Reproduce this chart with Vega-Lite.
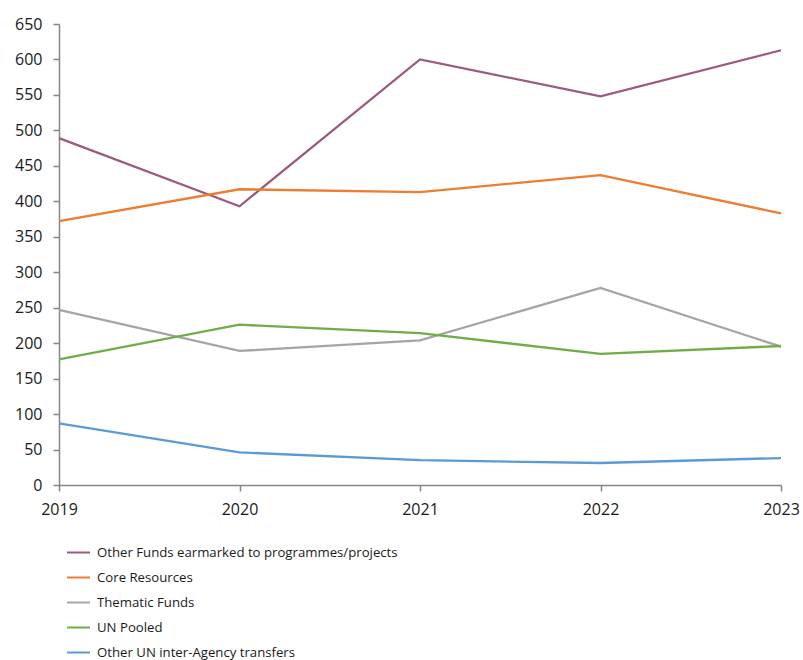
{
  "$schema": "https://vega.github.io/schema/vega-lite/v6.json",
  "autosize": {"type": "none"},
  "width": 722,
  "height": 461,
  "padding": {"left": 59, "top": 24, "right": 22, "bottom": 175},
  "background": "white",
  "config": {
    "font": "Open Sans",
    "view": {"stroke": null},
    "axis": {
      "grid": false,
      "domainColor": "#868686",
      "domainWidth": 1.5,
      "tickColor": "#868686",
      "tickWidth": 1.5,
      "tickSize": 6,
      "labelColor": "#1a1a1a",
      "labelFontSize": 16,
      "title": null
    }
  },
  "data": {
    "values": [
      {"year": "2019", "series": "Other Funds earmarked to programmes/projects", "value": 489},
      {"year": "2020", "series": "Other Funds earmarked to programmes/projects", "value": 393},
      {"year": "2021", "series": "Other Funds earmarked to programmes/projects", "value": 600},
      {"year": "2022", "series": "Other Funds earmarked to programmes/projects", "value": 548},
      {"year": "2023", "series": "Other Funds earmarked to programmes/projects", "value": 613},
      {"year": "2019", "series": "Core Resources", "value": 372},
      {"year": "2020", "series": "Core Resources", "value": 417},
      {"year": "2021", "series": "Core Resources", "value": 413},
      {"year": "2022", "series": "Core Resources", "value": 437},
      {"year": "2023", "series": "Core Resources", "value": 383},
      {"year": "2019", "series": "Thematic Funds", "value": 247},
      {"year": "2020", "series": "Thematic Funds", "value": 189},
      {"year": "2021", "series": "Thematic Funds", "value": 204},
      {"year": "2022", "series": "Thematic Funds", "value": 278},
      {"year": "2023", "series": "Thematic Funds", "value": 195},
      {"year": "2019", "series": "UN Pooled", "value": 177},
      {"year": "2020", "series": "UN Pooled", "value": 226},
      {"year": "2021", "series": "UN Pooled", "value": 214},
      {"year": "2022", "series": "UN Pooled", "value": 185},
      {"year": "2023", "series": "UN Pooled", "value": 196},
      {"year": "2019", "series": "Other UN inter-Agency transfers", "value": 87},
      {"year": "2020", "series": "Other UN inter-Agency transfers", "value": 46},
      {"year": "2021", "series": "Other UN inter-Agency transfers", "value": 35},
      {"year": "2022", "series": "Other UN inter-Agency transfers", "value": 31},
      {"year": "2023", "series": "Other UN inter-Agency transfers", "value": 38}
    ]
  },
  "mark": {"type": "line", "strokeWidth": 2.3, "strokeCap": "butt"},
  "encoding": {
    "x": {
      "field": "year",
      "type": "ordinal",
      "scale": {"type": "point", "padding": 0},
      "axis": {"labelAngle": 0, "labelPadding": 10}
    },
    "y": {
      "field": "value",
      "type": "quantitative",
      "scale": {"domain": [0, 650], "nice": false},
      "axis": {"values": [0, 50, 100, 150, 200, 250, 300, 350, 400, 450, 500, 550, 600, 650], "labelPadding": 11}
    },
    "color": {
      "field": "series",
      "type": "nominal",
      "scale": {
        "domain": ["Other Funds earmarked to programmes/projects", "Core Resources", "Thematic Funds", "UN Pooled", "Other UN inter-Agency transfers"],
        "range": ["#9B5A80", "#ED7D31", "#A5A5A5", "#70AD47", "#5B9BD5"]
      },
      "legend": {
        "title": null,
        "orient": "none",
        "legendX": 7,
        "legendY": 516,
        "direction": "vertical",
        "symbolType": "stroke",
        "symbolSize": 529,
        "symbolStrokeWidth": 2,
        "labelFontSize": 13.2,
        "labelColor": "#1a1a1a",
        "labelOffset": 6,
        "rowPadding": 6,
        "labelLimit": 500
      }
    }
  }
}
